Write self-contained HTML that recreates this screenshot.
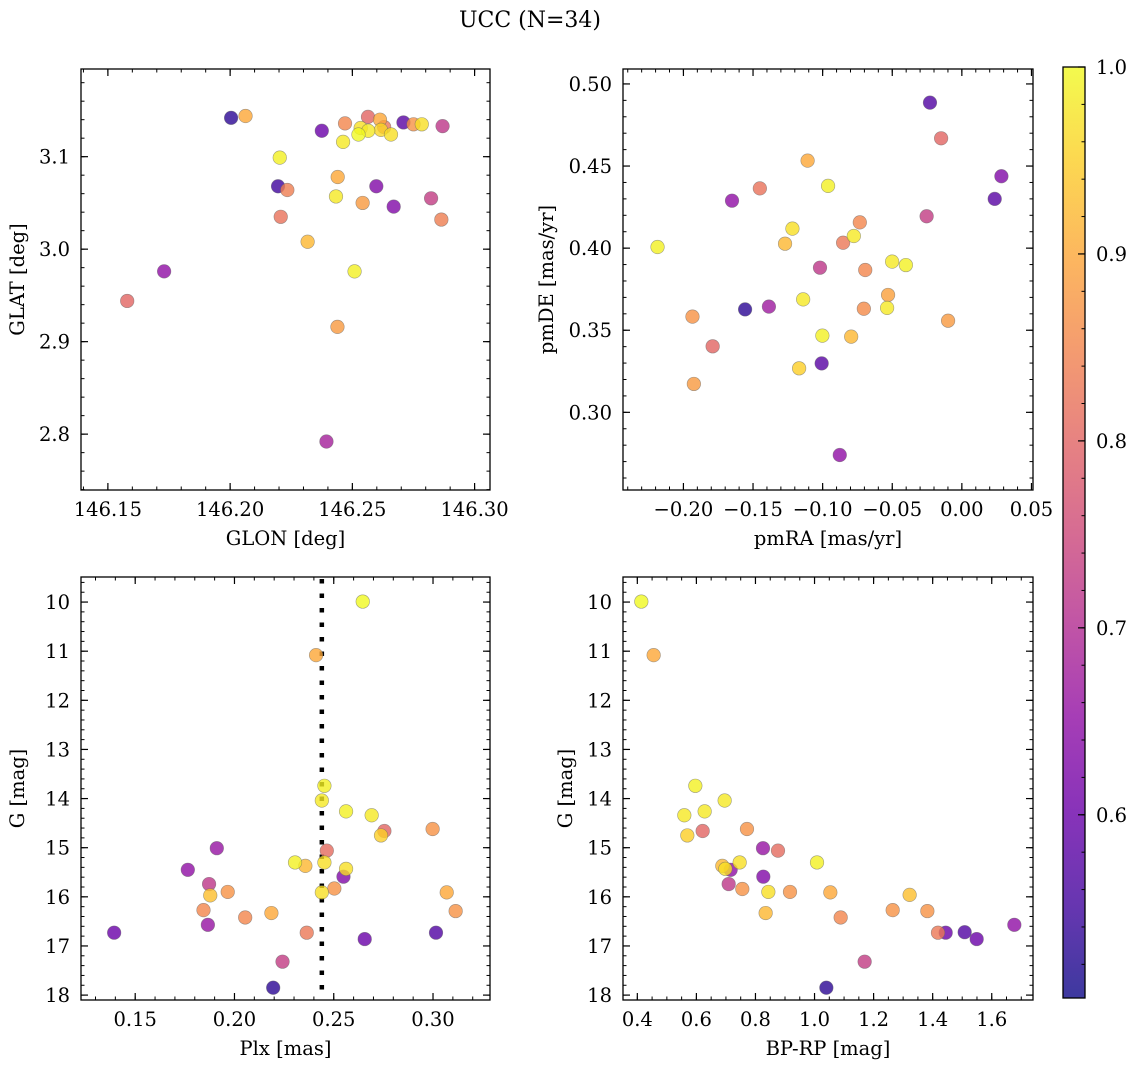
<!DOCTYPE html>
<html><head><meta charset="utf-8"><style>
html,body{margin:0;padding:0;background:#fff;}
svg{display:block;font-family:"DejaVu Serif","Liberation Serif",serif;}
</style></head><body>
<svg id="fig" width="1136" height="1067" viewBox="0 0 1136 1067" xmlns="http://www.w3.org/2000/svg">
<defs>
<linearGradient id="plasma" x1="0" y1="1" x2="0" y2="0"></linearGradient>
</defs>
<text x="530" y="27" font-size="22" text-anchor="middle">UCC (N=34)</text>
</svg>
<script>
// ---- data (per panel) ----
const tlGlon=[146.2004,146.2063,146.2375,146.247,146.2564,146.2613,146.263,146.2709,146.275,146.2784,146.2869,146.2534,146.2525,146.2565,146.2617,146.2658,146.2462,146.2203,146.2196,146.2234,146.244,146.2598,146.2433,146.2542,146.2669,146.2822,146.2207,146.2864,146.2317,146.2509,146.173,146.1579,146.2439,146.2394];
const tlGlat=[3.142,3.144,3.128,3.136,3.143,3.140,3.132,3.137,3.135,3.135,3.133,3.131,3.124,3.128,3.129,3.124,3.116,3.099,3.068,3.064,3.078,3.068,3.057,3.050,3.046,3.055,3.035,3.032,3.008,2.976,2.976,2.944,2.916,2.792];
const tlProb=[0.53,0.9,0.6,0.85,0.8,0.9,0.83,0.58,0.87,0.97,0.72,0.97,1.0,0.98,0.96,0.97,0.98,0.99,0.55,0.84,0.9,0.63,0.98,0.88,0.63,0.73,0.82,0.84,0.92,0.99,0.65,0.8,0.88,0.68];

const trPmra=[-0.0229,-0.0149,0.0284,0.0236,-0.0253,-0.1108,-0.0961,-0.1451,-0.1651,-0.2186,-0.1217,-0.127,-0.0733,-0.0776,-0.0853,-0.1019,-0.0694,-0.0501,-0.0402,-0.053,-0.0537,-0.0704,-0.114,-0.1386,-0.1557,-0.1935,-0.0099,-0.1002,-0.0795,-0.179,-0.1007,-0.1169,-0.1925,-0.0877];
const trPmde=[0.4886,0.4669,0.4438,0.4300,0.4194,0.4533,0.4379,0.4364,0.4289,0.4007,0.4119,0.4027,0.4157,0.4074,0.4033,0.3881,0.3867,0.3918,0.3897,0.3715,0.3636,0.3631,0.3688,0.3644,0.3627,0.3583,0.3558,0.3467,0.3461,0.3402,0.3298,0.3268,0.3173,0.2740];
const trProb=[0.57,0.8,0.63,0.58,0.73,0.9,0.99,0.82,0.65,0.99,0.97,0.92,0.85,0.98,0.83,0.72,0.85,0.98,0.99,0.89,0.98,0.86,0.98,0.67,0.53,0.87,0.88,0.99,0.92,0.8,0.58,0.95,0.88,0.65];

const blPlx=[0.2646,0.2411,0.2453,0.244,0.2562,0.2691,0.2755,0.2738,0.2998,0.1911,0.2465,0.2305,0.2357,0.2453,0.2562,0.2549,0.1765,0.1872,0.1878,0.1966,0.244,0.2503,0.3069,0.1844,0.3114,0.2054,0.2186,0.1866,0.1394,0.2364,0.3015,0.2656,0.2242,0.2195];
const blG=[9.99,11.08,13.74,14.04,14.26,14.34,14.66,14.75,14.62,15.01,15.06,15.30,15.37,15.30,15.43,15.59,15.45,15.74,15.97,15.90,15.91,15.83,15.91,16.27,16.29,16.42,16.33,16.57,16.73,16.73,16.73,16.86,17.32,17.85];
const blProb=[1.0,0.9,0.99,0.98,0.99,0.98,0.8,0.95,0.87,0.66,0.81,0.99,0.92,0.97,0.97,0.63,0.65,0.72,0.93,0.87,0.97,0.87,0.9,0.85,0.87,0.85,0.9,0.66,0.6,0.83,0.57,0.6,0.73,0.53];
const plxMean=0.244;

const brBprp=[0.4135,0.4553,0.5964,0.6957,0.628,0.5591,0.6212,0.5693,0.7713,0.8255,0.8763,1.0084,0.6878,0.7465,0.698,0.8266,0.716,0.7093,0.8345,0.7555,0.8436,0.9169,1.0535,1.322,1.2646,1.382,1.0885,1.418,1.4441,1.5084,1.549,1.6765,1.1697,1.04];
const brG=[9.99,11.08,13.74,14.04,14.26,14.34,14.66,14.75,14.62,15.01,15.06,15.30,15.37,15.30,15.43,15.59,15.45,15.74,16.33,15.84,15.90,15.90,15.91,15.96,16.27,16.29,16.42,16.73,16.73,16.72,16.86,16.57,17.32,17.85];
const brProb=[1.0,0.9,0.99,0.98,0.98,0.98,0.8,0.95,0.87,0.66,0.81,0.99,0.92,0.97,0.97,0.63,0.65,0.72,0.92,0.87,0.97,0.87,0.9,0.93,0.87,0.87,0.85,0.83,0.6,0.57,0.6,0.65,0.73,0.53];

const tlXTicks=[146.15,146.20,146.25,146.30];
const tlYTicks=[2.8,2.9,3.0,3.1];
const trXTicks=[-0.20,-0.15,-0.10,-0.05,0.00,0.05];
const trYTicks=[0.30,0.35,0.40,0.45,0.50];
const blXTicks=[0.15,0.20,0.25,0.30];
const gTicks=[10,11,12,13,14,15,16,17,18];
const brXTicks=[0.4,0.6,0.8,1.0,1.2,1.4,1.6];
const cbTicks=[0.6,0.7,0.8,0.9,1.0];
const vmin=0.502, vmax=1.0;

// ---- helpers ----
const NS="http://www.w3.org/2000/svg";
const svg=document.getElementById('fig');
const FS=19.5;
function mk(tag,attrs,parent){const e=document.createElementNS(NS,tag);for(const k in attrs)e.setAttribute(k,attrs[k]);(parent||svg).appendChild(e);return e;}
const stops=[[13,8,135],[65,4,157],[106,0,168],[143,13,164],[177,42,144],[204,71,120],[225,100,98],[242,132,75],[252,166,54],[252,206,37],[240,249,33]];
function plasma(t){t=Math.max(0,Math.min(1,t));const f=t*10,i=Math.min(9,Math.floor(f)),r=f-i;const a=stops[i],b=stops[i+1];return 'rgb('+a.map((v,k)=>Math.round(v+(b[k]-v)*r)).join(',')+')';}
function pcol(p){return plasma((p-vmin)/(vmax-vmin));}
function fmt(v,d){const s=Math.abs(v).toFixed(d);return (v<-1e-9?'\u2212':'')+s;}

function panel(cfg){
  const g=mk('g',{});
  
  
  const X=v=>cfg.L+(v-cfg.xmin)/(cfg.xmax-cfg.xmin)*(cfg.R-cfg.L);
  const Y=cfg.inv? v=>cfg.T+(v-cfg.ymin)/(cfg.ymax-cfg.ymin)*(cfg.B-cfg.T)
                 : v=>cfg.B-(v-cfg.ymin)/(cfg.ymax-cfg.ymin)*(cfg.B-cfg.T);
  const eps=1e-9;
  for(let v=Math.ceil(cfg.xmin/cfg.xminor-eps)*cfg.xminor;v<=cfg.xmax;v+=cfg.xminor){const x=X(v);
    mk('line',{x1:x,x2:x,y1:cfg.B,y2:cfg.B-3.5,stroke:'#000','stroke-width':1},g);
    mk('line',{x1:x,x2:x,y1:cfg.T,y2:cfg.T+3.5,stroke:'#000','stroke-width':1},g);}
  for(let v=Math.ceil(cfg.ymin/cfg.yminor-eps)*cfg.yminor;v<=cfg.ymax;v+=cfg.yminor){const y=Y(v);
    mk('line',{x1:cfg.L,x2:cfg.L+3.5,y1:y,y2:y,stroke:'#000','stroke-width':1},g);
    mk('line',{x1:cfg.R,x2:cfg.R-3.5,y1:y,y2:y,stroke:'#000','stroke-width':1},g);}
  const xt=mk('g',{},g);
  
  
  cfg.xticks.forEach(v=>{const x=X(v);
    mk('line',{x1:x,x2:x,y1:cfg.B,y2:cfg.B-7,stroke:'#000','stroke-width':1.2},xt);
    mk('line',{x1:x,x2:x,y1:cfg.T,y2:cfg.T+7,stroke:'#000','stroke-width':1.2},xt);
    const t=mk('text',{x:x,y:cfg.B+26,'font-size':FS,'text-anchor':'middle'},xt);t.textContent=fmt(v,cfg.xd);});
  const yt=mk('g',{},g);
  
  
  cfg.yticks.forEach(v=>{const y=Y(v);
    mk('line',{x1:cfg.L,x2:cfg.L+7,y1:y,y2:y,stroke:'#000','stroke-width':1.2},yt);
    mk('line',{x1:cfg.R,x2:cfg.R-7,y1:y,y2:y,stroke:'#000','stroke-width':1.2},yt);
    const t=mk('text',{x:cfg.L-11,y:y+7,'font-size':FS,'text-anchor':'end'},yt);t.textContent=fmt(v,cfg.yd);});
  if(cfg.vline!==undefined){const x=X(cfg.vline);
    const l=mk('line',{x1:x,x2:x,y1:cfg.T+2,y2:cfg.B,stroke:'#000','stroke-width':4.5,'stroke-dasharray':'4.5 10'},g);
    
    }
  const pts=mk('g',{},g);
  
  
  const order=cfg.xs.map((_,i)=>i).sort((a,b)=>cfg.ps[a]-cfg.ps[b]);
  order.forEach(i=>{
    const c=mk('circle',{cx:X(cfg.xs[i]),cy:Y(cfg.ys[i]),r:6.8,fill:pcol(cfg.ps[i]),'fill-opacity':0.8,stroke:'#666','stroke-opacity':0.6,'stroke-width':0.6},pts);
    
    
  });
  const fr=mk('rect',{x:cfg.L,y:cfg.T,width:cfg.R-cfg.L,height:cfg.B-cfg.T,fill:'none',stroke:'#000','stroke-width':1.3},g);
  
  
  const xl=mk('text',{x:(cfg.L+cfg.R)/2,y:cfg.B+55,'font-size':FS,'text-anchor':'middle'},g);
  xl.textContent=cfg.xlabel;
  
  
  const yc=(cfg.T+cfg.B)/2;
  const yl=mk('text',{x:cfg.ylx,y:yc,'font-size':FS,'text-anchor':'middle',transform:'rotate(-90 '+cfg.ylx+' '+yc+')'},g);
  yl.textContent=cfg.ylabel;
  
  
}

panel({name:'glon-glat-panel',L:81,R:490,T:69,B:490,xmin:146.139,xmax:146.3063,ymin:2.7396,ymax:3.1948,inv:false,
  xticks:tlXTicks,yticks:tlYTicks,xminor:0.01,yminor:0.02,xd:2,yd:1,xs:tlGlon,ys:tlGlat,ps:tlProb,
  xlabel:'GLON [deg]',ylabel:'GLAT [deg]',ylx:24});
panel({name:'pm-panel',L:623,R:1033,T:69,B:490,xmin:-0.2434,xmax:0.0511,ymin:0.2527,ymax:0.5091,inv:false,
  xticks:trXTicks,yticks:trYTicks,xminor:0.01,yminor:0.01,xd:2,yd:2,xs:trPmra,ys:trPmde,ps:trProb,
  xlabel:'pmRA [mas/yr]',ylabel:'pmDE [mas/yr]',ylx:553});
panel({name:'plx-g-panel',L:81,R:490,T:577,B:1000,xmin:0.1227,xmax:0.3287,ymin:9.49,ymax:18.10,inv:true,
  xticks:blXTicks,yticks:gTicks,xminor:0.01,yminor:0.2,xd:2,yd:0,xs:blPlx,ys:blG,ps:blProb,
  xlabel:'Plx [mas]',ylabel:'G [mag]',ylx:24,vline:plxMean});
panel({name:'cmd-panel',L:623,R:1033,T:577,B:1000,xmin:0.3515,xmax:1.7397,ymin:9.49,ymax:18.10,inv:true,
  xticks:brXTicks,yticks:gTicks,xminor:0.05,yminor:0.2,xd:1,yd:0,xs:brBprp,ys:brG,ps:brProb,
  xlabel:'BP-RP [mag]',ylabel:'G [mag]',ylx:572});

// colorbar
const grad=document.getElementById('plasma');
for(let k=0;k<=10;k++){mk('stop',{offset:(k*10)+'%','stop-color':plasma(k/10)},grad);}
const cbL=1063,cbR=1085,cbT=67,cbB=998;
const cb=mk('g',{});


mk('rect',{x:cbL,y:cbT,width:cbR-cbL,height:cbB-cbT,fill:'url(#plasma)','fill-opacity':0.8},cb);
const CY=v=>cbB-(v-vmin)/(vmax-vmin)*(cbB-cbT);
for(let v=0.52;v<=1.0001;v+=0.02){const y=CY(v);mk('line',{x1:cbR,x2:cbR-3.5,y1:y,y2:y,stroke:'#000','stroke-width':1},cb);}
cbTicks.forEach(v=>{const y=CY(v);
  mk('line',{x1:cbR,x2:cbR-7,y1:y,y2:y,stroke:'#000','stroke-width':1.2},cb);
  const t=mk('text',{x:cbR+11,y:y+7,'font-size':FS},cb);t.textContent=v.toFixed(1);});
mk('rect',{x:cbL,y:cbT,width:cbR-cbL,height:cbB-cbT,fill:'none',stroke:'#000','stroke-width':1.3},cb);
</script>
</body></html>
